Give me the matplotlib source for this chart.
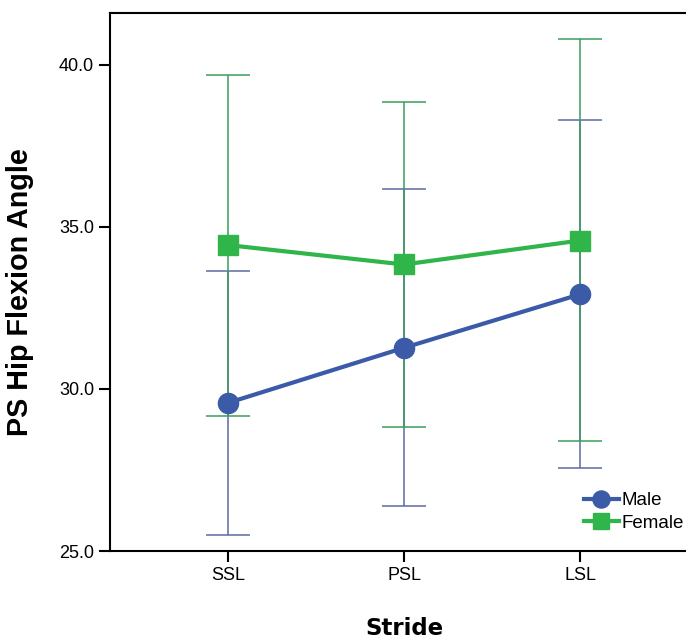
import matplotlib.pyplot as plt
import numpy as np

strides = ["SSL", "PSL", "LSL"]
male_mean = [29.57, 31.27, 32.92]
male_low = [25.49, 26.39, 27.56]
male_high = [33.64, 36.17, 38.30]
female_mean = [34.44, 33.84, 34.58]
female_low = [29.17, 28.84, 28.40]
female_high = [39.70, 38.86, 40.80]

x = np.arange(len(strides))

fig = plt.figure(figsize=(6.86, 6.4), dpi=100)
ax = fig.add_axes([110/686, 89/640, 588/686, 538/640])

def err(mean, low, high):
    m = np.array(mean)
    return [m - np.array(low), np.array(high) - m]

# error bars first (thin), then the mean lines on top
ax.errorbar(x, male_mean, yerr=err(male_mean, male_low, male_high), fmt='none',
            ecolor='#5b6aa3', elinewidth=1.1, capsize=16, capthick=1.1, zorder=2)
ax.errorbar(x, female_mean, yerr=err(female_mean, female_low, female_high), fmt='none',
            ecolor='#3c9c5e', elinewidth=1.1, capsize=16, capthick=1.1, zorder=2)

ax.plot(x, male_mean, color='#3b5ba8', lw=3, marker='o', ms=14.5, label='Male', zorder=4)
ax.plot(x, female_mean, color='#2fb54a', lw=3, marker='s', ms=14, label='Female', zorder=3)

ax.set_xlim(-0.67, 2.67)
ax.set_ylim(25, 41.6)
ax.set_xticks(x)
ax.set_xticklabels(strides)
ax.set_yticks([25, 30, 35, 40])
ax.set_yticklabels(["25.0", "30.0", "35.0", "40.0"])

for s in ax.spines.values():
    s.set_linewidth(1.5)
ax.spines['right'].set_visible(False)
ax.tick_params(length=8, width=1.5, labelsize=13)
for lab in ax.get_xticklabels() + ax.get_yticklabels():
    lab.set_fontfamily('Liberation Sans')

ax.set_ylabel("PS Hip Flexion Angle", fontsize=20.7, fontweight='bold',
              family='Liberation Sans')
ax.yaxis.set_label_coords(-76/588, 0.481)
ax.set_xlabel("Stride", fontsize=16.5, fontweight='bold', labelpad=24)

leg = ax.legend(loc='lower right', bbox_to_anchor=(684/686, 108/640),
                bbox_transform=fig.transFigure, frameon=False,
                prop={'family': 'Liberation Sans', 'size': 13.5}, handlelength=1.85,
                handletextpad=0.15, labelspacing=0.3, markerscale=0.85, borderaxespad=0,
                borderpad=0)

fig.savefig("out.png", dpi=100)
